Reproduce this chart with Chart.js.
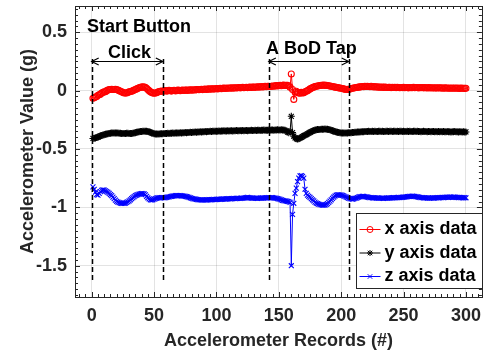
<!DOCTYPE html>
<html>
<head>
<meta charset="utf-8">
<script src="https://cdn.jsdelivr.net/npm/chart.js@4.4.1/dist/chart.umd.min.js"></script>
<style>
  html, body { margin: 0; padding: 0; background: #fff; }
</style>
</head>
<body>
<canvas id="accelChart" width="487" height="351"></canvas>
<script>
// record index (#) for every sample
const records = Array.from({ length: 300 }, (_, i) => i + 1);

const xAxisData = [
  -0.065, -0.06, -0.055, -0.05, -0.04, -0.035, -0.03, -0.02, -0.015, -0.01, -0.01, 0.0, 0.005, 0.01, 0.01, 0.012, 0.01, 0.01, 0.012, 0.01,
  0.005, 0.0, -0.005, -0.01, -0.015, -0.02, -0.02, -0.02, -0.015, -0.01, -0.008, -0.005, 0.0, 0.005, 0.01, 0.015, 0.02, 0.025, 0.028, 0.03,
  0.032, 0.03, 0.028, 0.02, 0.01, 0.0, -0.01, -0.015, -0.02, -0.022, -0.02, -0.018, -0.012, -0.008, -0.005, -0.003, -0.005, -0.002, 0.0, -0.004,
  -0.002, 0.002, 0.0, -0.004, 0.001, 0.003, -0.002, 0.0, 0.004, 0.002, 0.0, 0.003, 0.005, 0.001, 0.004, 0.006, 0.002, 0.005, 0.007, 0.004,
  0.006, 0.008, 0.005, 0.009, 0.01, 0.007, 0.01, 0.012, 0.009, 0.012, 0.014, 0.01, 0.013, 0.015, 0.012, 0.015, 0.016, 0.013, 0.016, 0.018,
  0.015, 0.018, 0.02, 0.017, 0.02, 0.022, 0.019, 0.021, 0.023, 0.02, 0.022, 0.024, 0.021, 0.024, 0.025, 0.022, 0.025, 0.027, 0.024, 0.026,
  0.028, 0.025, 0.027, 0.029, 0.026, 0.028, 0.03, 0.027, 0.03, 0.031, 0.028, 0.031, 0.033, 0.03, 0.033, 0.034, 0.031, 0.034, 0.036, 0.033,
  0.036, 0.038, 0.035, 0.038, 0.04, 0.038, 0.041, 0.043, 0.04, 0.044, 0.045, 0.042, 0.045, 0.047, 0.044, 0.046, 0.045, 0.04, 0.03, 0.143,
  0.01, -0.075, -0.012, -0.005, -0.015, -0.02, -0.022, -0.015, -0.02, -0.018, -0.01, -0.005, 0.0, 0.008, 0.015, 0.02, 0.026, 0.03, 0.035, 0.038,
  0.04, 0.042, 0.044, 0.045, 0.046, 0.047, 0.045, 0.046, 0.044, 0.042, 0.04, 0.038, 0.035, 0.033, 0.03, 0.028, 0.026, 0.024, 0.022, 0.02,
  0.018, 0.015, 0.012, 0.01, 0.012, 0.01, 0.014, 0.018, 0.02, 0.022, 0.025, 0.027, 0.028, 0.03, 0.032, 0.033, 0.035, 0.034, 0.036, 0.035,
  0.036, 0.035, 0.034, 0.036, 0.033, 0.034, 0.032, 0.033, 0.031, 0.03, 0.031, 0.029, 0.03, 0.028, 0.03, 0.029, 0.027, 0.029, 0.028, 0.026,
  0.028, 0.027, 0.029, 0.026, 0.028, 0.027, 0.025, 0.027, 0.026, 0.028, 0.025, 0.027, 0.026, 0.024, 0.027, 0.025, 0.026, 0.028, 0.025, 0.027,
  0.026, 0.024, 0.026, 0.025, 0.027, 0.024, 0.026, 0.025, 0.023, 0.026, 0.024, 0.025, 0.023, 0.025, 0.022, 0.024, 0.023, 0.025, 0.022, 0.024,
  0.023, 0.021, 0.024, 0.022, 0.023, 0.021, 0.023, 0.02, 0.022, 0.021, 0.023, 0.02, 0.022, 0.021, 0.019, 0.022, 0.02, 0.021, 0.019, 0.02
];

const yAxisData = [
  -0.41, -0.408, -0.405, -0.402, -0.398, -0.392, -0.388, -0.384, -0.38, -0.377, -0.374, -0.371, -0.369, -0.367, -0.365, -0.364, -0.363, -0.362, -0.362, -0.363,
  -0.364, -0.365, -0.366, -0.367, -0.368, -0.368, -0.367, -0.366, -0.366, -0.367, -0.368, -0.367, -0.365, -0.363, -0.36, -0.357, -0.354, -0.352, -0.351, -0.35,
  -0.349, -0.348, -0.347, -0.348, -0.35, -0.353, -0.357, -0.362, -0.366, -0.369, -0.371, -0.372, -0.372, -0.371, -0.37, -0.369, -0.37, -0.368, -0.367, -0.368,
  -0.366, -0.367, -0.365, -0.366, -0.364, -0.365, -0.363, -0.364, -0.362, -0.363, -0.361, -0.362, -0.36, -0.361, -0.359, -0.36, -0.358, -0.359, -0.357, -0.358,
  -0.356, -0.357, -0.355, -0.356, -0.354, -0.355, -0.353, -0.354, -0.352, -0.353, -0.351, -0.352, -0.35, -0.351, -0.349, -0.35, -0.348, -0.349, -0.347, -0.348,
  -0.347, -0.346, -0.347, -0.345, -0.346, -0.344, -0.345, -0.346, -0.344, -0.345, -0.343, -0.344, -0.345, -0.343, -0.344, -0.342, -0.343, -0.344, -0.342, -0.343,
  -0.342, -0.343, -0.341, -0.342, -0.343, -0.341, -0.342, -0.34, -0.341, -0.342, -0.34, -0.341, -0.339, -0.34, -0.341, -0.339, -0.34, -0.338, -0.339, -0.34,
  -0.339, -0.338, -0.339, -0.337, -0.338, -0.339, -0.337, -0.338, -0.336, -0.337, -0.338, -0.336, -0.337, -0.338, -0.34, -0.345, -0.355, -0.36, -0.35, -0.22,
  -0.36, -0.39, -0.405, -0.412, -0.415, -0.412, -0.406, -0.4, -0.394, -0.388, -0.382, -0.376, -0.37, -0.364, -0.358, -0.352, -0.347, -0.342, -0.338, -0.336,
  -0.334, -0.333, -0.332, -0.331, -0.33, -0.33, -0.329, -0.33, -0.331, -0.333, -0.336, -0.339, -0.343, -0.347, -0.351, -0.354, -0.357, -0.359, -0.361, -0.362,
  -0.363, -0.364, -0.364, -0.363, -0.362, -0.361, -0.36, -0.36, -0.359, -0.358, -0.357, -0.356, -0.355, -0.355, -0.354, -0.353, -0.352, -0.352, -0.351, -0.35,
  -0.35, -0.349, -0.351, -0.35, -0.348, -0.35, -0.349, -0.351, -0.35, -0.349, -0.348, -0.35, -0.349, -0.351, -0.35, -0.348, -0.349, -0.35, -0.348, -0.349,
  -0.35, -0.348, -0.349, -0.351, -0.349, -0.35, -0.348, -0.349, -0.35, -0.349, -0.351, -0.35, -0.348, -0.35, -0.349, -0.351, -0.35, -0.349, -0.348, -0.35,
  -0.349, -0.351, -0.35, -0.352, -0.35, -0.349, -0.351, -0.35, -0.352, -0.351, -0.35, -0.352, -0.351, -0.35, -0.352, -0.351, -0.353, -0.351, -0.352, -0.35,
  -0.352, -0.351, -0.353, -0.352, -0.351, -0.353, -0.352, -0.354, -0.352, -0.353, -0.351, -0.353, -0.352, -0.354, -0.353, -0.352, -0.354, -0.353, -0.355, -0.354
];

const zAxisData = [
  -0.825, -0.845, -0.87, -0.89, -0.895, -0.88, -0.865, -0.855, -0.85, -0.852, -0.858, -0.865, -0.872, -0.88, -0.89, -0.9, -0.912, -0.925, -0.938, -0.948,
  -0.955, -0.96, -0.963, -0.965, -0.966, -0.965, -0.963, -0.958, -0.952, -0.944, -0.935, -0.926, -0.917, -0.908, -0.9, -0.895, -0.89, -0.887, -0.885, -0.883,
  -0.882, -0.885, -0.892, -0.905, -0.918, -0.928, -0.935, -0.937, -0.935, -0.93, -0.925, -0.92, -0.918, -0.917, -0.918, -0.917, -0.916, -0.918, -0.917, -0.915,
  -0.913, -0.91, -0.907, -0.905, -0.903, -0.901, -0.9, -0.899, -0.9, -0.899, -0.9, -0.902, -0.901, -0.903, -0.905, -0.908, -0.911, -0.915, -0.918, -0.922,
  -0.925, -0.928, -0.93, -0.932, -0.934, -0.935, -0.936, -0.937, -0.936, -0.937, -0.936, -0.935, -0.936, -0.934, -0.935, -0.933, -0.934, -0.932, -0.933, -0.931,
  -0.932, -0.93, -0.931, -0.929, -0.93, -0.928, -0.929, -0.927, -0.928, -0.926, -0.927, -0.925, -0.926, -0.924, -0.925, -0.923, -0.924, -0.922, -0.923, -0.921,
  -0.922, -0.92, -0.918, -0.917, -0.915, -0.916, -0.918, -0.92, -0.921, -0.92, -0.922, -0.921, -0.923, -0.922, -0.921, -0.92, -0.919, -0.92, -0.918, -0.919,
  -0.918, -0.917, -0.918, -0.916, -0.917, -0.918, -0.92, -0.922, -0.925, -0.928, -0.932, -0.936, -0.94, -0.943, -0.945, -0.947, -0.948, -0.95, -0.957, -1.5,
  -1.06, -0.965, -0.88, -0.835, -0.78, -0.75, -0.73, -0.728, -0.735, -0.75, -0.845, -0.88, -0.895, -0.905, -0.915, -0.925, -0.935, -0.945, -0.955, -0.963,
  -0.968, -0.972, -0.976, -0.979, -0.98, -0.981, -0.98, -0.975, -0.968, -0.958, -0.947, -0.935, -0.923, -0.912, -0.903, -0.896, -0.893, -0.892, -0.893, -0.895,
  -0.898, -0.902, -0.907, -0.912, -0.917, -0.921, -0.925, -0.928, -0.929, -0.927, -0.924, -0.92, -0.916, -0.912, -0.909, -0.907, -0.905, -0.906, -0.908, -0.91,
  -0.912, -0.914, -0.916, -0.917, -0.918, -0.919, -0.918, -0.92, -0.919, -0.921, -0.92, -0.922, -0.921, -0.923, -0.922, -0.92, -0.921, -0.919, -0.92, -0.918,
  -0.919, -0.917, -0.918, -0.916, -0.917, -0.915, -0.916, -0.914, -0.915, -0.913, -0.912, -0.91, -0.909, -0.907, -0.906, -0.905, -0.904, -0.905, -0.906, -0.908,
  -0.91, -0.912, -0.914, -0.916, -0.917, -0.918, -0.919, -0.918, -0.92, -0.919, -0.921, -0.92, -0.919, -0.92, -0.918, -0.919, -0.917, -0.918, -0.916, -0.917,
  -0.915, -0.916, -0.914, -0.915, -0.913, -0.914, -0.912, -0.913, -0.914, -0.912, -0.913, -0.915, -0.914, -0.916, -0.915, -0.917, -0.916, -0.918, -0.917, -0.918
];

const xTicks = [0, 50, 100, 150, 200, 250, 300];
const yTicks = [-1.5, -1, -0.5, 0, 0.5];

// event windows marked with dashed lines (record #)
const clickWindow = [0, 57];
const tapWindow = [142, 206];

const FONT = '"Liberation Sans", Arial, Helvetica, sans-serif';
const AXIS_COLOR = '#262626';

const seriesInfo = [
  { label: 'x axis data', data: xAxisData, color: '#ff0000', style: 'circle', radius: 3 },
  { label: 'y axis data', data: yAxisData, color: '#000000', style: 'star', radius: 3.5 },
  { label: 'z axis data', data: zAxisData, color: '#0000ff', style: 'crossRot', radius: 3.5 }
];

function drawMarker(ctx, style, x, y, r, color) {
  ctx.save();
  ctx.strokeStyle = color;
  ctx.lineWidth = 1;
  ctx.beginPath();
  if (style === 'circle') {
    ctx.arc(x, y, r, 0, Math.PI * 2);
  } else {
    const d = r * 0.75;
    ctx.moveTo(x - d, y - d); ctx.lineTo(x + d, y + d);
    ctx.moveTo(x - d, y + d); ctx.lineTo(x + d, y - d);
    if (style === 'star') {
      ctx.moveTo(x - r, y); ctx.lineTo(x + r, y);
      ctx.moveTo(x, y - r); ctx.lineTo(x, y + r);
    }
  }
  ctx.stroke();
  ctx.restore();
}

function arrowHead(ctx, x, y, dir) {
  ctx.beginPath();
  ctx.moveTo(x + dir * 7, y - 3.5);
  ctx.lineTo(x, y);
  ctx.lineTo(x + dir * 7, y + 3.5);
  ctx.stroke();
}

const matlabAxes = {
  id: 'matlabAxes',
  afterDatasetsDraw(chart) {
    const ctx = chart.ctx;
    const xs = chart.scales.x, ys = chart.scales.y;
    ctx.save();

    // dashed event boundaries
    ctx.strokeStyle = '#000';
    ctx.lineWidth = 1.5;
    ctx.setLineDash([5, 3]);
    [...clickWindow, ...tapWindow].forEach(v => {
      const px = Math.round(xs.getPixelForValue(v)) + 0.5;
      ctx.beginPath();
      ctx.moveTo(px, ys.getPixelForValue(0.27));
      ctx.lineTo(px, ys.getPixelForValue(-1.635));
      ctx.stroke();
    });
    ctx.setLineDash([]);

    // double arrows
    ctx.lineWidth = 1.2;
    const ay = Math.round(ys.getPixelForValue(0.254)) + 0.5;
    [clickWindow, tapWindow].forEach(w => {
      const x1 = xs.getPixelForValue(w[0]), x2 = xs.getPixelForValue(w[1]);
      ctx.beginPath();
      ctx.moveTo(x1, ay); ctx.lineTo(x2, ay);
      ctx.stroke();
      arrowHead(ctx, x1, ay, 1);
      arrowHead(ctx, x2, ay, -1);
    });

    // text annotations
    ctx.fillStyle = '#000';
    ctx.font = 'bold 18px ' + FONT;
    ctx.textBaseline = 'middle';
    ctx.textAlign = 'left';
    ctx.fillText('Start Button', xs.getPixelForValue(-3.8), ys.getPixelForValue(0.545));
    ctx.fillText('A BoD Tap', xs.getPixelForValue(139.7), ys.getPixelForValue(0.36));
    ctx.textAlign = 'center';
    ctx.fillText('Click', xs.getPixelForValue(30.3), ys.getPixelForValue(0.322));
    ctx.restore();
  },
  afterDraw(chart) {
    const ctx = chart.ctx;
    const { left, right, top, bottom } = chart.chartArea;
    const xs = chart.scales.x, ys = chart.scales.y;
    ctx.save();
    ctx.strokeStyle = AXIS_COLOR;
    ctx.lineWidth = 1;

    // box
    ctx.strokeRect(Math.round(left) + 0.5, Math.round(top) + 0.5, Math.round(right - left), Math.round(bottom - top));

    // inward ticks on all four sides (major + minor)
    ctx.beginPath();
    for (let v = -10; v <= 310; v += 5) {
      const px = Math.round(xs.getPixelForValue(v)) + 0.5;
      const len = v % 50 === 0 ? 5 : 3;
      ctx.moveTo(px, bottom); ctx.lineTo(px, bottom - len);
      ctx.moveTo(px, top); ctx.lineTo(px, top + len);
    }
    for (let i = -35; i <= 14; i++) {
      const v = i * 0.05;
      const py = Math.round(ys.getPixelForValue(v)) + 0.5;
      const len = i % 10 === 0 ? 5 : 3;
      ctx.moveTo(left, py); ctx.lineTo(left + len, py);
      ctx.moveTo(right, py); ctx.lineTo(right - len, py);
    }
    ctx.stroke();

    // legend box, bottom-right inside the axes
    const boxW = 126, boxH = 75;
    const bx = Math.round(right - boxW) + 0.5, by = Math.round(bottom - 9 - boxH) + 0.5;
    ctx.fillStyle = '#fff';
    ctx.fillRect(bx, by, boxW, boxH);
    ctx.strokeStyle = AXIS_COLOR;
    ctx.strokeRect(bx, by, boxW, boxH);
    ctx.font = 'bold 18px ' + FONT;
    ctx.textBaseline = 'middle';
    ctx.textAlign = 'left';
    seriesInfo.forEach((s, i) => {
      const ry = by + 16 + i * 23.5;
      ctx.strokeStyle = s.color;
      ctx.lineWidth = 1;
      ctx.beginPath();
      ctx.moveTo(bx + 3, ry); ctx.lineTo(bx + 24, ry);
      ctx.stroke();
      drawMarker(ctx, s.style, bx + 13.5, ry, 3, s.color);
      ctx.fillStyle = '#000';
      ctx.fillText(s.label, bx + 28, ry);
    });
    ctx.restore();
  }
};

const ctx = document.getElementById('accelChart').getContext('2d');
const chart = new Chart(ctx, {
  type: 'line',
  data: {
    labels: records,
    datasets: seriesInfo.map(s => ({
      label: s.label,
      data: s.data,
      borderColor: s.color,
      borderWidth: 1,
      pointStyle: s.style,
      pointRadius: s.radius,
      pointBorderWidth: 1.1,
      pointBorderColor: s.color,
      pointBackgroundColor: 'rgba(0,0,0,0)',
      fill: false,
      tension: 0
    }))
  },
  options: {
    responsive: false,
    animation: false,
    layout: { padding: { top: 6, right: 5, left: 0, bottom: 0 } },
    plugins: {
      legend: { display: false },
      tooltip: { enabled: false }
    },
    scales: {
      x: {
        type: 'linear',
        min: -13.4,
        max: 312.8,
        afterBuildTicks: scale => { scale.ticks = xTicks.map(v => ({ value: v })); },
        afterFit: scale => {
          scale.height = 54;
          scale.paddingLeft = 0; scale.paddingRight = 0;
          scale.paddingTop = 0; scale.paddingBottom = 0;
        },
        grid: { color: 'rgba(38,38,38,0.13)', drawTicks: false },
        border: { display: false },
        ticks: {
          padding: 8,
          color: AXIS_COLOR,
          font: { family: FONT, size: 18, weight: 'bold' },
          maxRotation: 0,
          callback: v => String(v)
        },
        title: {
          display: true,
          text: 'Accelerometer Records (#)',
          color: AXIS_COLOR,
          font: { family: FONT, size: 18, weight: 'bold', lineHeight: 1.1 },
          padding: { top: 0, bottom: 0 }
        }
      },
      y: {
        type: 'linear',
        min: -1.768,
        max: 0.725,
        afterBuildTicks: scale => { scale.ticks = yTicks.map(v => ({ value: v })); },
        afterFit: scale => {
          scale.width = 75;
          scale.paddingLeft = 0; scale.paddingRight = 0;
          scale.paddingTop = 0; scale.paddingBottom = 0;
        },
        grid: { color: 'rgba(38,38,38,0.13)', drawTicks: false },
        border: { display: false },
        ticks: {
          padding: 8,
          color: AXIS_COLOR,
          font: { family: FONT, size: 18, weight: 'bold' },
          callback: v => String(v)
        },
        title: {
          display: true,
          text: 'Accelerometer Value (g)',
          color: AXIS_COLOR,
          font: { family: FONT, size: 18, weight: 'bold' },
          padding: { top: 17, bottom: 0 }
        }
      }
    }
  },
  plugins: [matlabAxes]
});
</script>
</body>
</html>
